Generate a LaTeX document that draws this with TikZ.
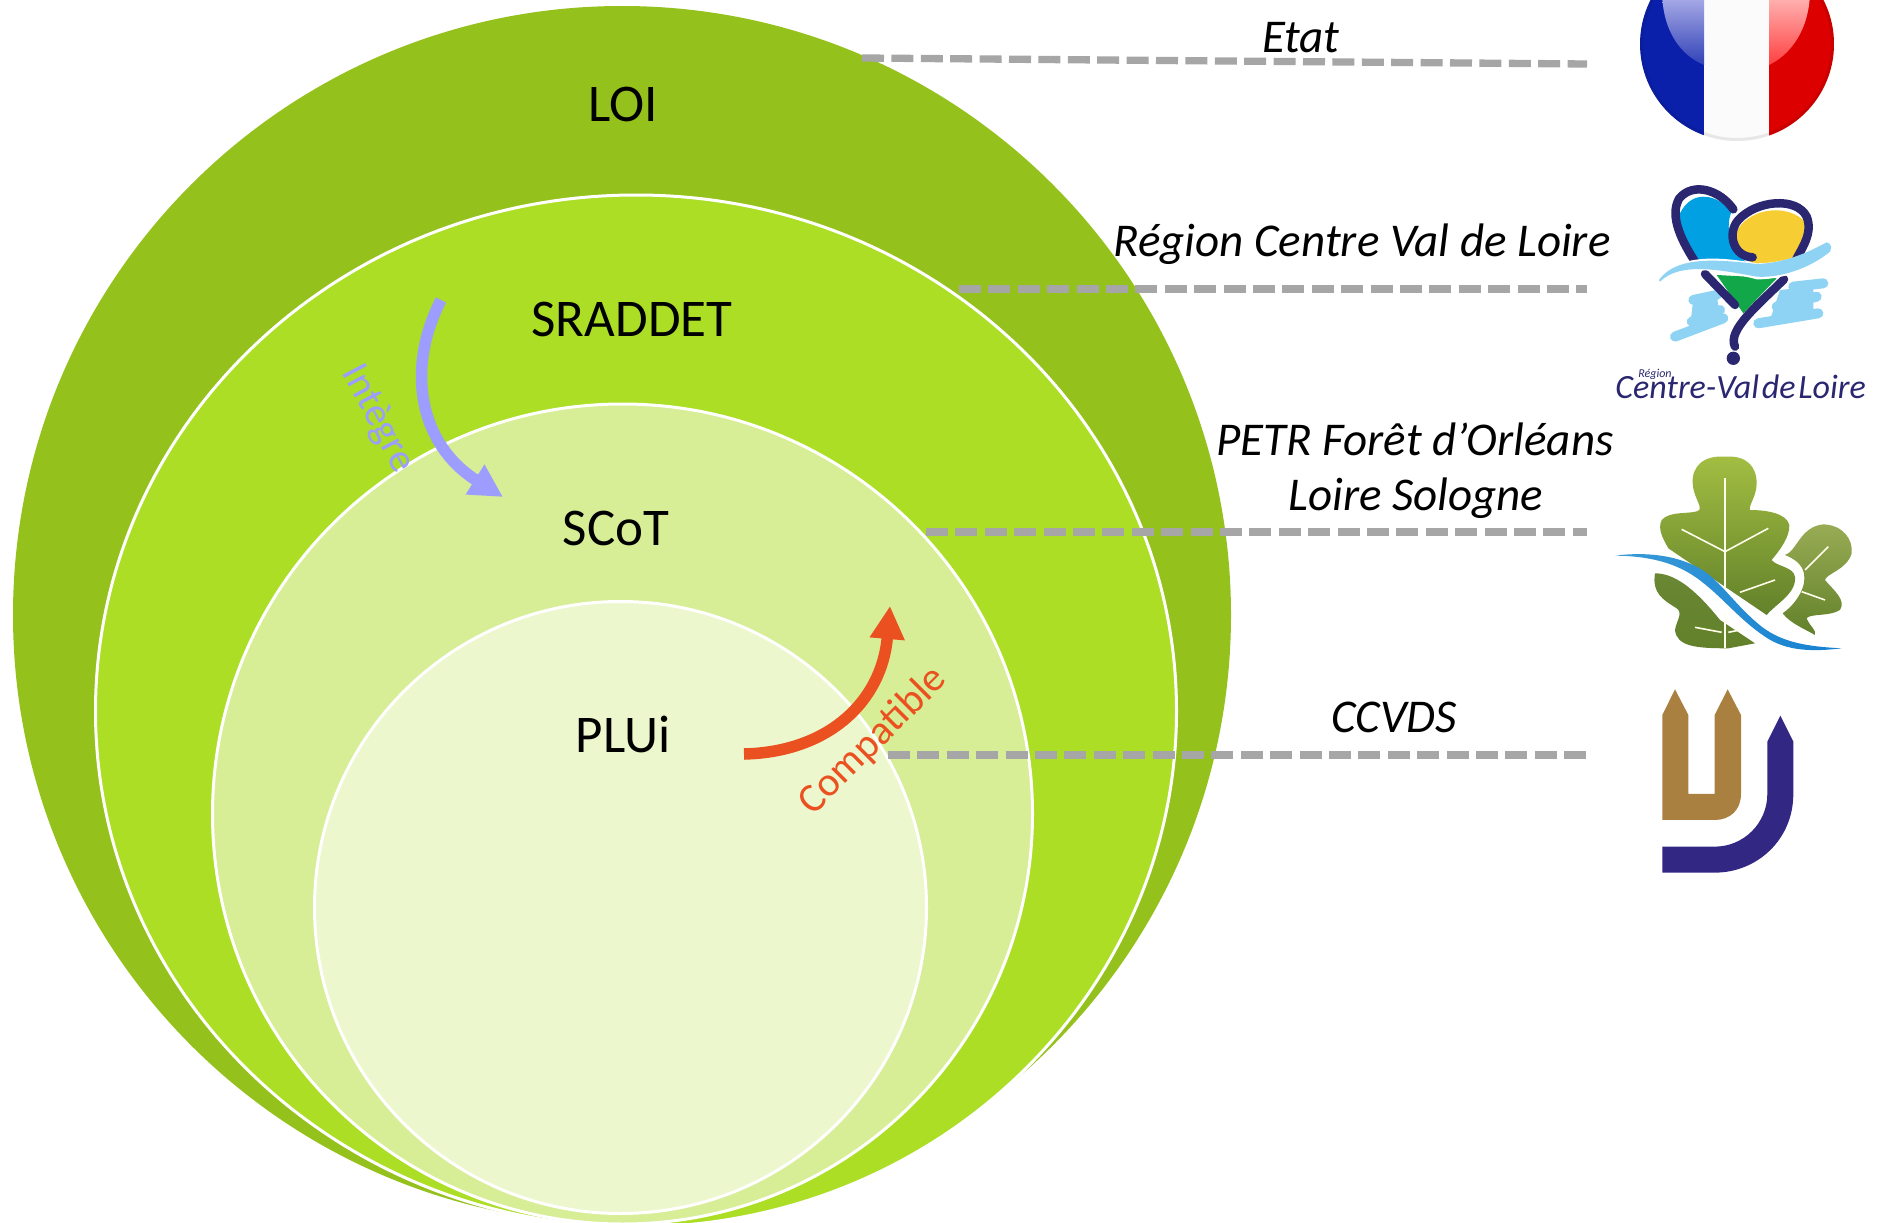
\documentclass[tikz,border=0pt]{standalone}
\usepackage{fontspec}
\setmainfont{Carlito}
\usetikzlibrary{arrows.meta}
\definecolor{cLoi}{HTML}{95C11C}
\definecolor{cSrad}{HTML}{ABDE24}
\definecolor{cScot}{HTML}{D7ED96}
\definecolor{cPlui}{HTML}{ECF7CD}
\definecolor{cDash}{HTML}{A6A6A6}
\definecolor{cInt}{HTML}{9D9DFF}
\definecolor{cComp}{HTML}{EB5020}
\definecolor{cNavy}{HTML}{2A2770}
\definecolor{cSky}{HTML}{8FD3F4}
\definecolor{cBlue}{HTML}{00A0E3}
\definecolor{cYel}{HTML}{F6CE34}
\definecolor{cGrn}{HTML}{12A84A}
\definecolor{cBrown}{HTML}{A98040}
\definecolor{cIndigo}{HTML}{322783}
\definecolor{cFrBlue}{HTML}{0B20AA}
\definecolor{cFrRed}{HTML}{DC0000}
\definecolor{cLeafA}{HTML}{A3BE42}
\definecolor{cLeafB}{HTML}{62812A}
\definecolor{cRivA}{HTML}{3A9BD8}
\definecolor{cRivB}{HTML}{1580D0}
\tikzset{
  ring/.style={inner sep=0pt,outer sep=0pt,draw=white,line width=3pt},
  lvl/.style={font=\fontsize{53}{53}\selectfont,text=black,inner sep=0pt},
  org/.style={font=\fontsize{47}{47}\selectfont\itshape,text=black,inner sep=0pt},
  lead/.style={draw=cDash,line width=7.3pt,dash pattern=on 22pt off 7.4pt},
  navy/.style={draw=cNavy,line width=8.5pt,line cap=round,line join=round},
  sky/.style={draw=cSky,line width=10pt,line cap=round},
  vein/.style={draw=white!92!yellow,line width=1.6pt},
}
\begin{document}
\begin{tikzpicture}[x=1pt,y=-1pt]
\useasboundingbox (0,0) rectangle (1888,1223);
% nested circles
\fill[cLoi] (622,615) circle (609);
\path[ring,fill=cSrad] (636,711) ellipse (540.5 and 516);
\node[ring,circle,fill=cScot,minimum size=820pt] (scot) at (622.5,814) {};
\node[ring,circle,fill=cPlui,minimum size=612pt] (plui) at (620.5,907.5) {};
% labels
\node[lvl] (tLoi) at (623,104) {LOI};
\node[lvl] (tSrad) at (632,319) {SRADDET};
\node[lvl] (tScot) at (616,528) {SCoT};
\node[lvl] (tPlui) at (623,734) {PLUi};
% leader lines
\coordinate (a1) at (862,58);  \coordinate (b1) at (1587,64);
\coordinate (a2) at (959,289); \coordinate (b2) at (1587,289);
\coordinate (a3) at (926,532); \coordinate (b3) at (1587,532);
\coordinate (a4) at (888,755); \coordinate (b4) at (1587,755);
\draw[lead] (a1) -- (b1);
\draw[lead] (a2) -- (b2);
\draw[lead] (a3) -- (b3);
\draw[lead] (a4) -- (b4);
\node[org] (oEtat) at (1301,38) {Etat};
\node[org] (oReg) at (1362,244) {Région Centre Val de Loire};
\node[org] (oPetr) at (1415,439) {PETR Forêt d’Orléans};
\node[org] (oSol) at (1416,498) {Loire Sologne};
\node[org] (oCc) at (1394,717) {CCVDS};
% arrows
\coordinate (i1) at (441,300); \coordinate (i2) at (503,497);
\draw[cInt,line width=11.5pt,-{Triangle[length=33pt,width=33pt]}] (i1) .. controls (405,370) and (420,445) .. (i2);
\node[rotate=-62,text=cInt,inner sep=0pt,font=\fontsize{40}{40}\selectfont] (tInt) at (378,419) {Intègre};
\coordinate (c1) at (744,754); \coordinate (c2) at (890,606);
\draw[cComp,line width=11.5pt,-{Triangle[length=33pt,width=33pt]}] (c1) .. controls (830,752) and (882,700) .. (c2);
\node[rotate=45,text=cComp,inner sep=0pt,font=\fontsize{41}{41}\selectfont] (tComp) at (873,741) {Compatible};
% flag
\begin{scope}
\clip (1737,44) circle (97);
\fill[cFrBlue] (1639,-60) rectangle (1704,145);
\fill[white!97!gray] (1704,-60) rectangle (1769,145);
\fill[cFrRed] (1769,-60) rectangle (1835,145);
\shade[bottom color=cFrBlue!85!white,top color=blue!25!white!85!gray] (1662,-10) .. controls (1662,30) and (1680,55) .. (1704,65) -- (1704,-10) -- cycle;
\shade[bottom color=red!75!white,top color=red!25!white] (1769,65) .. controls (1790,55) and (1810,30) .. (1810,-10) -- (1769,-10) -- cycle;
\draw[line width=4pt,black,opacity=.08] (1737,44) circle (96);
\end{scope}
% region logo
\begin{scope}[shift={(1580,0)},x=.3333pt,y=-.3333pt]
\draw[sky] (285,1010) -- (430,955);
\draw[sky] (335,965) -- (420,930);
\draw[sky] (340,900) -- (410,885);
\fill[cSky] (340,895) -- (410,885) -- (420,950) -- (330,985) -- cycle;
\draw[sky] (535,970) -- (715,940);
\draw[sky] (590,920) -- (710,890);
\draw[sky] (640,860) -- (730,850);
\fill[cSky] (600,870) -- (700,860) -- (700,940) -- (570,960) -- cycle;
\fill[cBlue] (455,635) .. controls (420,590) and (340,560) .. (300,640) .. controls (290,690) and (320,740) .. (345,790) -- (520,800) .. controls (460,770) and (430,690) .. cycle;
\fill[cYel] (465,710) .. controls (480,640) and (600,600) .. (670,660) .. controls (690,700) and (660,750) .. (640,790) -- (530,800) .. controls (490,770) and (465,750) .. cycle;
\fill[cGrn] (410,825) -- (590,835) -- (490,940) -- cycle;
\draw[navy] (460,628) .. controls (420,570) and (340,545) .. (298,595) .. controls (265,650) and (310,730) .. (345,785);
\draw[navy] (518,772) .. controls (460,770) and (440,700) .. (475,660) .. controls (530,600) and (650,590) .. (680,650) .. controls (700,700) and (665,745) .. (645,785);
\draw[navy] (375,822) -- (465,915);
\draw[navy] (612,838) .. controls (540,910) and (440,990) .. (465,1040);
\fill[cNavy] (460,1075) circle (20);
\fill[white] (235,840) .. controls (290,760) and (420,770) .. (530,790) .. controls (610,790) and (690,760) .. (750,725) -- (755,760) .. controls (690,810) and (600,840) .. (530,838) .. controls (420,810) and (300,790) .. (240,848) -- cycle;
\fill[cSky] (237,840) .. controls (290,765) and (420,780) .. (530,792) .. controls (610,790) and (680,760) .. (740,727) .. controls (755,730) and (755,745) .. (750,755) .. controls (690,805) and (600,835) .. (530,830) .. controls (420,810) and (300,785) .. (240,845) -- cycle;
\node[font=\fontsize{34}{34}\selectfont\itshape,text=cNavy,inner sep=0pt] (tCvl) at (482,1162) {\spaceskip=.08em Centre-Val de Loire};
\node[font=\fontsize{12}{12}\selectfont\itshape,text=cNavy,inner sep=0pt] (tReg) at (225,1124) {Région};
\end{scope}
% leaf logo
\begin{scope}[shift={(1580,430)},x=.3333pt,y=-.3333pt]
\shade[top color=cLeafA,bottom color=cLeafB] (435,80) .. controls (370,75) and (335,110) .. (338,160) .. controls (340,200) and (365,225) .. (358,240) .. controls (340,255) and (270,240) .. (245,270) .. controls (230,300) and (255,335) .. (265,355) -- (560,555) .. controls (590,520) and (650,490) .. (645,440) .. controls (640,410) and (590,410) .. (575,390) .. controls (600,360) and (630,320) .. (628,285) .. controls (620,250) and (560,240) .. (510,240) .. controls (505,225) and (530,200) .. (530,160) .. controls (530,110) and (500,75) .. (435,80) -- cycle;
\shade[top color=cLeafB!95!white,bottom color=cLeafB] (225,430) .. controls (280,430) and (340,470) .. (420,570) -- (525,640) -- (445,655) .. controls (350,655) and (290,650) .. (285,600) .. controls (290,570) and (310,550) .. (290,535) .. controls (250,510) and (215,490) .. (225,430) -- cycle;
\shade[top color=cLeafA!70!gray,bottom color=cLeafB] (615,375) .. controls (650,365) and (660,290) .. (730,283) .. controls (790,285) and (820,330) .. (815,370) .. controls (800,420) and (740,430) .. (735,450) .. controls (760,480) and (800,510) .. (780,540) .. controls (750,560) and (690,550) .. (680,565) .. controls (690,590) and (710,600) .. (705,615) .. controls (680,600) and (630,580) .. (608,550) .. controls (650,520) and (680,470) .. (672,430) .. controls (665,400) and (640,385) .. (615,375) -- cycle;
\draw[vein] (435,145) -- (435,655);
\draw[vein] (305,298) -- (435,365) -- (565,295);
\draw[vein] (480,487) -- (585,450);
\draw[vein] (345,592) -- (425,607);
\draw[vein] (445,607) -- (480,600);
\draw[vein] (745,350) -- (675,420);
\draw[vein] (665,485) -- (735,510);
\draw[white,line width=14pt] (200,385) .. controls (320,390) and (400,480) .. (470,550) .. controls (510,590) and (560,650) .. (690,655);
\shade[left color=cRivA,right color=cRivB] (105,377) .. controls (200,365) and (300,375) .. (375,425) .. controls (430,465) and (470,530) .. (545,590) .. controls (610,640) and (690,650) .. (785,655) .. controls (700,665) and (620,665) .. (555,620) .. controls (480,570) and (430,505) .. (365,455) .. controls (290,395) and (200,378) .. (105,377) -- cycle;
\end{scope}
% U logo
\begin{scope}[shift={(1580,430)},x=.3333pt,y=-.3333pt]
\fill[cBrown] (247,855) -- (285,778) -- (325,855) -- (325,1092) -- (404,1092) -- (404,855) -- (443,778) -- (483,855) -- (483,1092) .. controls (483,1140) and (450,1170) .. (405,1170) -- (247,1170) -- cycle;
\fill[cIndigo] (601,857) -- (640,935) -- (640,1092) .. controls (640,1230) and (530,1328) .. (405,1328) -- (247,1328) -- (247,1250) -- (405,1250) .. controls (490,1250) and (562,1180) .. (562,1092) -- (562,935) -- cycle;
\end{scope}
\end{tikzpicture}
\end{document}
